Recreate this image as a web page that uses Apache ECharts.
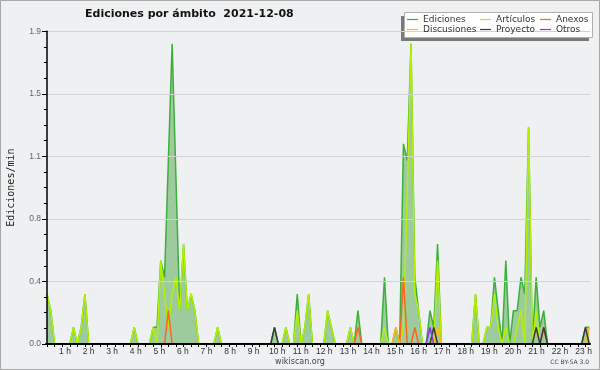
<!DOCTYPE html>
<html><head><meta charset="utf-8">
<script src="https://cdn.jsdelivr.net/npm/echarts@6/dist/echarts.min.js"></script>
<style>html,body{margin:0;padding:0;background:#eff0f1}#c{width:600px;height:370px}</style>
</head><body><div id="c"></div>
<script>
// ---- data (10-minute bins, 0:00 .. 23:50) ----
const titleText = 'Ediciones por ámbito  2021-12-08';
const seriesNames = ['Ediciones', 'Artículos', 'Anexos', 'Discusiones', 'Proyecto', 'Otros'];
const yTickValues = [0, 0.375, 0.75, 1.125, 1.5, 1.875];
const yTickLabels = ['0.0', '0.4', '0.8', '1.1', '1.5', '1.9'];
const xTickHours = [1,2,3,4,5,6,7,8,9,10,11,12,13,14,15,16,17,18,19,20,21,22,23];
const xTickLabels = ['1 h','2 h','3 h','4 h','5 h','6 h','7 h','8 h','9 h','10 h','11 h','12 h','13 h','14 h','15 h','16 h','17 h','18 h','19 h','20 h','21 h','22 h','23 h'];

const ediciones = [
  0.3,0.2,0,0,0,0,0,0.1,0,0.1,0.3,0,
  0,0,0,0,0,0,0,0,0,0,0,0.1,
  0,0,0,0,0.1,0.1,0.5,0.4,1.1,1.8,1.0,0.2,
  0.6,0.2,0.3,0.2,0,0,0,0,0,0.1,0,0,
  0,0,0,0,0,0,0,0,0,0,0,0,
  0.1,0,0,0.1,0,0,0.3,0,0.1,0.3,0,0,
  0,0,0.2,0.1,0,0,0,0,0.1,0,0.2,0,
  0,0,0,0,0,0.4,0,0,0.1,0,1.2,1.1,
  1.8,0.4,0.2,0,0,0.2,0.1,0.6,0,0,0,0,
  0,0,0,0,0,0.3,0,0,0.1,0.1,0.4,0.2,
  0,0.5,0,0.2,0.2,0.4,0.3,1.3,0,0.4,0.1,0.2,
  0,0,0,0,0,0,0,0,0,0,0.1,0.1
];
const articulos = [
  0.3,0.2,0,0,0,0,0,0.1,0,0.1,0.3,0,
  0,0,0,0,0,0,0,0,0,0,0,0.1,
  0,0,0,0,0.1,0,0.5,0.3,0.1,0.3,0.4,0.2,
  0.6,0.2,0.3,0.2,0,0,0,0,0,0.1,0,0,
  0,0,0,0,0,0,0,0,0,0,0,0,
  0,0,0,0.1,0,0,0.2,0,0.1,0.3,0,0,
  0,0,0.2,0.1,0,0,0,0,0.1,0,0,0,
  0,0,0,0,0,0.1,0,0,0,0,0.1,0.9,
  1.8,0.3,0.2,0,0,0,0,0.5,0,0,0,0,
  0,0,0,0,0,0.3,0,0,0.1,0.1,0.3,0.1,
  0,0.1,0,0,0.1,0.2,0,1.3,0,0.2,0,0,
  0,0,0,0,0,0,0,0,0,0,0,0
];
const anexos = [
  0,0,0,0,0,0,0,0,0,0,0,0,
  0,0,0,0,0,0,0,0,0,0,0,0,
  0,0,0,0,0,0,0,0,0.2,0,0,0,
  0,0,0,0,0,0,0,0,0,0,0,0,
  0,0,0,0,0,0,0,0,0,0,0,0,
  0,0,0,0,0,0,0,0,0,0,0,0,
  0,0,0,0,0,0,0,0,0,0,0.1,0,
  0,0,0,0,0,0,0,0,0,0,0.4,0,
  0,0.1,0,0,0,0,0,0,0,0,0,0,
  0,0,0,0,0,0,0,0,0,0,0,0,
  0,0,0,0,0,0,0,0,0,0,0,0.1,
  0,0,0,0,0,0,0,0,0,0,0,0
];
const discusiones = [
  0,0,0,0,0,0,0,0,0,0,0,0,
  0,0,0,0,0,0,0,0,0,0,0,0,
  0,0,0,0,0,0,0,0,0,0,0,0,
  0,0,0,0,0,0,0,0,0,0,0,0,
  0,0,0,0,0,0,0,0,0,0,0,0,
  0,0,0,0,0,0,0,0,0,0,0,0,
  0,0,0,0,0,0,0,0,0,0,0,0,
  0,0,0,0,0,0,0,0,0.1,0,0,0,
  0,0,0,0,0,0,0,0.1,0,0,0,0,
  0,0,0,0,0,0,0,0,0,0,0,0,
  0,0,0,0,0,0,0,0,0,0,0,0,
  0,0,0,0,0,0,0,0,0,0,0,0.1
];
const proyecto = [
  0,0,0,0,0,0,0,0,0,0,0,0,
  0,0,0,0,0,0,0,0,0,0,0,0,
  0,0,0,0,0,0,0,0,0,0,0,0,
  0,0,0,0,0,0,0,0,0,0,0,0,
  0,0,0,0,0,0,0,0,0,0,0,0,
  0.1,0,0,0,0,0,0,0,0,0,0,0,
  0,0,0,0,0,0,0,0,0,0,0,0,
  0,0,0,0,0,0,0,0,0,0,0,0,
  0,0,0,0,0,0,0.1,0,0,0,0,0,
  0,0,0,0,0,0,0,0,0,0,0,0,
  0,0,0,0,0,0,0,0,0,0.1,0,0.1,
  0,0,0,0,0,0,0,0,0,0,0.1,0
];
const otros = [
  0,0,0,0,0,0,0,0,0,0,0,0,
  0,0,0,0,0,0,0,0,0,0,0,0,
  0,0,0,0,0,0,0,0,0,0,0,0,
  0,0,0,0,0,0,0,0,0,0,0,0,
  0,0,0,0,0,0,0,0,0,0,0,0,
  0,0,0,0,0,0,0,0,0,0,0,0,
  0,0,0,0,0,0,0,0,0,0,0,0,
  0,0,0,0,0,0,0,0,0,0,0,0,
  0,0,0,0,0,0.1,0,0,0,0,0,0,
  0,0,0,0,0,0,0,0,0,0,0,0,
  0,0,0,0,0,0,0,0,0,0,0,0,
  0,0,0,0,0,0,0,0,0,0,0,0
];

// ---- chart ----
const seriesData = [ediciones, articulos, anexos, discusiones, proyecto, otros];
const colors = ['#3bb03b', '#b4f000', '#ff6420', '#ffbb11', '#3a3a3a', '#8833ee'];
const tickBins = [];
for (let i = 0; i < ediciones.length; i += 2) tickBins.push(i);

const series = seriesData.map((arr, k) => {
  const s = {
    name: seriesNames[k], type: 'line', xAxisIndex: 0, yAxisIndex: 0,
    data: arr.map((v, i) => [i, v]),
    symbol: 'none', smooth: false, color: colors[k],
    lineStyle: { width: 1.5, color: colors[k] },
    z: 2 + k
  };
  if (k === 0) s.areaStyle = { color: '#9ecb9e', opacity: 1 };
  return s;
});

const legendFont = { fontFamily: 'DejaVu Sans', fontSize: 9, color: '#333', lineHeight: 10 };
function mkLegend(names, left) {
  return { data: names, orient: 'vertical', left: left, top: 14.5, padding: 0, itemGap: 0,
    icon: 'rect', itemWidth: 11, itemHeight: 1.2, itemTextGap: 5, textStyle: legendFont,
    selectedMode: false, z: 10 };
}

const chart = echarts.init(document.getElementById('c'));
chart.setOption({
  animation: false,
  backgroundColor: '#eff0f1',
  title: { text: titleText, left: 85, top: 9, padding: 0,
    textStyle: { fontFamily: 'DejaVu Sans', fontWeight: 'bold', fontSize: 11, color: '#111' } },
  legend: [
    mkLegend([seriesNames[0], seriesNames[3]], 407),
    mkLegend([seriesNames[1], seriesNames[4]], 480),
    mkLegend([seriesNames[2], seriesNames[5]], 540)
  ],
  grid: { left: 46, right: 10, top: 31.3, bottom: 26, containLabel: false, outerBoundsMode: 'none' },
  xAxis: [
    { type: 'value', min: -0.264, max: 143.2, position: 'bottom', z: 10,
      axisLine: { show: true, onZero: false, lineStyle: { color: '#000', width: 2 } },
      axisTick: { show: true, customValues: tickBins, length: 3, lineStyle: { color: '#000', width: 1 } },
      axisLabel: { show: false }, splitLine: { show: false } },
    { type: 'value', min: 0.193, max: 23.27, position: 'bottom',
      axisLine: { show: false }, axisTick: { show: false }, splitLine: { show: false },
      axisLabel: { show: true, customValues: xTickHours, margin: 3,
        formatter: (v) => xTickLabels[xTickHours.indexOf(Math.round(v))],
        fontFamily: 'Liberation Sans', fontSize: 8.5, color: '#333' } }
  ],
  yAxis: {
    type: 'value', min: 0, max: yTickValues[yTickValues.length - 1], interval: yTickValues[1],
    name: 'Ediciones/min', nameLocation: 'middle', nameRotate: 90, nameGap: 30,
    nameTextStyle: { fontFamily: 'DejaVu Sans Mono', fontSize: 10, color: '#222' },
    axisLine: { show: true, lineStyle: { color: '#000', width: 1.5 } },
    axisTick: { show: true, length: 5, lineStyle: { color: '#000' } },
    minorTick: { show: true, splitNumber: 4, length: 3, lineStyle: { color: '#000' } },
    axisLabel: { margin: 5, fontFamily: 'Liberation Sans', fontSize: 8.5, color: '#666',
      formatter: (v) => { const i = yTickValues.findIndex(t => Math.abs(t - v) < 1e-6); return i >= 0 ? yTickLabels[i] : ''; } },
    splitLine: { show: true, lineStyle: { color: '#d2d2d2', width: 1 } },
    z: 10
  },
  graphic: [
    { type: 'rect', z: 0, silent: true, shape: { x: 0.5, y: 0.5, width: 599, height: 369 },
      style: { fill: 'none', stroke: '#a8a8a8', lineWidth: 1 } },
    { type: 'rect', z: 8, silent: true, shape: { x: 401, y: 16, width: 188, height: 25 },
      style: { fill: '#7a7a7a' } },
    { type: 'rect', z: 9, silent: true, shape: { x: 404.5, y: 12.5, width: 188, height: 25 },
      style: { fill: '#ffffff', stroke: '#b0b0b0', lineWidth: 1 } },
    { type: 'text', z: 10, silent: true, x: 300, y: 361.5,
      style: { text: 'wikiscan.org', fontFamily: 'DejaVu Sans', fontSize: 8, fill: '#444', align: 'center', verticalAlign: 'middle' } },
    { type: 'text', z: 10, silent: true, x: 589, y: 362,
      style: { text: 'CC BY-SA 3.0', fontFamily: 'DejaVu Sans', fontSize: 6, fill: '#444', align: 'right', verticalAlign: 'middle' } }
  ],
  series: series
});
</script>
</body></html>
